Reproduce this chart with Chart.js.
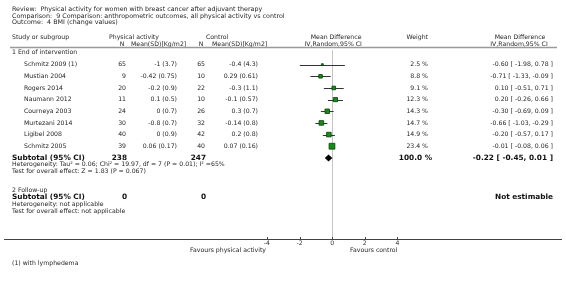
<!DOCTYPE html>
<html><head><meta charset="utf-8">
<script src="https://cdn.jsdelivr.net/npm/chart.js@4/dist/chart.umd.min.js"></script>
<style>html,body{margin:0;padding:0;background:#fff}#wrap{width:566px;height:281px;position:relative}</style>
</head><body><div id="wrap"><canvas id="c" width="566" height="281"></canvas></div>
<script>
// ---- data ----
const studies = ['Schmitz 2009 (1)','Mustian 2004','Rogers 2014','Naumann 2012','Courneya 2003','Murtezani 2014','Ligibel 2008','Schmitz 2005'];
const paN = [65,9,20,11,24,30,40,39];
const paMeanSD = ['-1 (3.7)','-0.42 (0.75)','-0.2 (0.9)','0.1 (0.5)','0 (0.7)','-0.8 (0.7)','0 (0.9)','0.06 (0.17)'];
const ctrlN = [65,10,22,10,26,32,42,40];
const ctrlMeanSD = ['-0.4 (4.3)','0.29 (0.61)','-0.3 (1.1)','-0.1 (0.57)','0.3 (0.7)','-0.14 (0.8)','0.2 (0.8)','0.07 (0.16)'];
const weights = [2.5,8.8,9.1,12.3,14.3,14.7,14.9,23.4];
const meanDiff = [-0.60,-0.71,0.10,0.20,-0.30,-0.66,-0.20,-0.01];
const ciLow = [-1.98,-1.33,-0.51,-0.26,-0.69,-1.03,-0.57,-0.08];
const ciHigh = [0.78,-0.09,0.71,0.66,0.09,-0.29,0.17,0.06];
const subtotalN = [238,247];
const subtotalMD = [-0.22,-0.45,0.01];
const subtotalWeight = 100.0;
const followUpN = [0,0];
const tickValues = [-4,-2,0,2,4];
const rowIndex = studies.map((s,i)=>i);
const subtotalRow = studies.length;

const FONT = '"DejaVu Sans", Verdana, sans-serif';
const TXT = '#262626';
const FS = 6.2, FB = 7.35, FT = 6.35;

function fmt(v){ return (v<0?'-':'') + Math.abs(v).toFixed(2); }

const tablePlugin = {
  id:'table',
  beforeDatasetsDraw(chart){
    const ctx = chart.ctx, xs = chart.scales.x, ys = chart.scales.y;
    ctx.save();
    const x0 = Math.round(xs.getPixelForValue(0))+0.5;
    ctx.strokeStyle='#c4c4c4'; ctx.lineWidth=1;
    ctx.beginPath(); ctx.moveTo(x0,50); ctx.lineTo(x0,chart.chartArea.bottom); ctx.stroke();
    ctx.strokeStyle='#333'; ctx.lineWidth=1;
    studies.forEach((s,i)=>{
      const y = Math.round(ys.getPixelForValue(rowIndex[i]))+0.5;
      ctx.beginPath();
      ctx.moveTo(xs.getPixelForValue(ciLow[i]),y);
      ctx.lineTo(xs.getPixelForValue(ciHigh[i]),y);
      ctx.stroke();
    });
    ctx.restore();
  },
  afterDraw(chart){
    const ctx = chart.ctx, xs = chart.scales.x, ys = chart.scales.y;
    const f = (sz,b)=> (b?'bold ':'') + sz + 'px ' + FONT;
    function t(str,x,y,align,sz,bold,col){
      ctx.font = f(sz||FS,bold); ctx.fillStyle = col||TXT;
      ctx.textAlign = align||'left'; ctx.textBaseline='middle';
      ctx.fillText(str,x,y);
    }
    ctx.save();
    // title block
    t('Review:  Physical activity for women with breast cancer after adjuvant therapy',12,9.5,'left',FT);
    t('Comparison:  9 Comparison: anthropometric outcomes, all physical activity vs control',12,16,'left',FT);
    t('Outcome:  4 BMI (change values)',12,22.5,'left',FT);
    // headers
    t('Study or subgroup',12,37.5);
    t('Physical activity',109,37.5);
    t('Control',206,37.5);
    t('N',122,44,'center');
    t('Mean(SD)[Kg/m2]',131,44);
    t('N',201,44,'center');
    t('Mean(SD)[Kg/m2]',212,44);
    const x0 = xs.getPixelForValue(0);
    t('Mean Difference',x0+4,37.5,'center');
    t('IV,Random,95% CI',x0+1,44,'center');
    t('Weight',428,37.5,'right');
    t('Mean Difference',520,37.5,'center');
    t('IV,Random,95% CI',519,44,'center');
    ctx.strokeStyle='#9a9a9a'; ctx.lineWidth=1.5;
    ctx.beginPath(); ctx.moveTo(10,47.5); ctx.lineTo(557,47.5); ctx.stroke();
    // group 1
    t('1 End of intervention',12,52);
    studies.forEach((s,i)=>{
      const y = ys.getPixelForValue(rowIndex[i]);
      t(s,24,y);
      t(String(paN[i]),126,y,'right');
      t(paMeanSD[i],177,y,'right');
      t(String(ctrlN[i]),205,y,'right');
      t(ctrlMeanSD[i],258,y,'right');
      t(weights[i].toFixed(1)+' %',428,y,'right');
      t(fmt(meanDiff[i])+' [ '+fmt(ciLow[i])+', '+fmt(ciHigh[i])+' ]',553,y,'right');
    });
    const ys8 = ys.getPixelForValue(subtotalRow)+0.5;
    t('Subtotal (95% CI)',12,ys8,'left',FB,true,'#111');
    t(String(subtotalN[0]),127,ys8,'right',FB,true,'#111');
    t(String(subtotalN[1]),206,ys8,'right',FB,true,'#111');
    t(subtotalWeight.toFixed(1)+' %',432,ys8,'right',FB,true,'#111');
    t(fmt(subtotalMD[0])+' [ '+fmt(subtotalMD[1])+', '+fmt(subtotalMD[2])+' ]',553,ys8,'right',FB,true,'#111');
    t('Heterogeneity: Tau\u00b2 = 0.06; Chi\u00b2 = 19.97, df = 7 (P = 0.01); I\u00b2 =65%',12,164.5);
    t('Test for overall effect: Z = 1.83 (P = 0.067)',12,171);
    // diamond
    const yd = ys.getPixelForValue(subtotalRow);
    const dl = xs.getPixelForValue(subtotalMD[1]), dr = xs.getPixelForValue(subtotalMD[2]), dc = xs.getPixelForValue(subtotalMD[0]);
    ctx.fillStyle='#000';
    ctx.beginPath(); ctx.moveTo(dl,yd); ctx.lineTo(dc,yd-3.5); ctx.lineTo(dr,yd); ctx.lineTo(dc,yd+3.5); ctx.closePath(); ctx.fill();
    // group 2
    t('2 Follow-up',12,190);
    t('Subtotal (95% CI)',12,197.5,'left',FB,true,'#111');
    t(String(followUpN[0]),127,197.5,'right',FB,true,'#111');
    t(String(followUpN[1]),206,197.5,'right',FB,true,'#111');
    t('Not estimable',553,197.5,'right',FB,true,'#111');
    t('Heterogeneity: not applicable',12,204.5);
    t('Test for overall effect: not applicable',12,211);
    // axis ticks (upward)
    ctx.strokeStyle='#444'; ctx.lineWidth=1;
    tickValues.forEach(v=>{
      const x = Math.round(xs.getPixelForValue(v))+0.5;
      ctx.beginPath(); ctx.moveTo(x,chart.chartArea.bottom-2); ctx.lineTo(x,chart.chartArea.bottom); ctx.stroke();
    });
    t('Favours physical activity',266,250,'right');
    t('Favours control',350,250,'left');
    t('(1) with lymphedema',12,263);
    ctx.restore();
  }
};

const sqData = meanDiff.map((m,i)=>({x:m,y:rowIndex[i]}));
const sqRadius = weights.map(w=> Math.max(0.9, 1.2*Math.sqrt(w)/Math.SQRT2));

new Chart(document.getElementById('c'),{
  type:'scatter',
  data:{datasets:[{
    data:sqData,
    pointStyle:'rect',
    pointRadius:sqRadius,
    pointHoverRadius:sqRadius,
    backgroundColor:'#128f12',
    borderColor:'#0a3f0a',
    borderWidth:0.8
  }]},
  options:{
    responsive:false,
    animation:false,
    events:[],
    layout:{padding:0},
    plugins:{legend:{display:false},tooltip:{enabled:false}},
    scales:{
      x:{
        type:'linear',
        min:-333/16.6, max:233/16.6,
        afterBuildTicks(s){ s.ticks = tickValues.map(v=>({value:v})); },
        afterFit(s){ s.height = 42; },
        grid:{display:true,drawOnChartArea:false,drawTicks:false},
        border:{display:true,color:'#444',width:1},
        ticks:{font:{size:FS,family:FONT},color:'#333',padding:1,maxRotation:0,autoSkip:false}
      },
      y:{
        type:'linear',display:false,reverse:true,
        min:-61/11.9, max:-61/11.9 + 239/11.9
      }
    }
  },
  plugins:[tablePlugin]
});
</script>
</body></html>
